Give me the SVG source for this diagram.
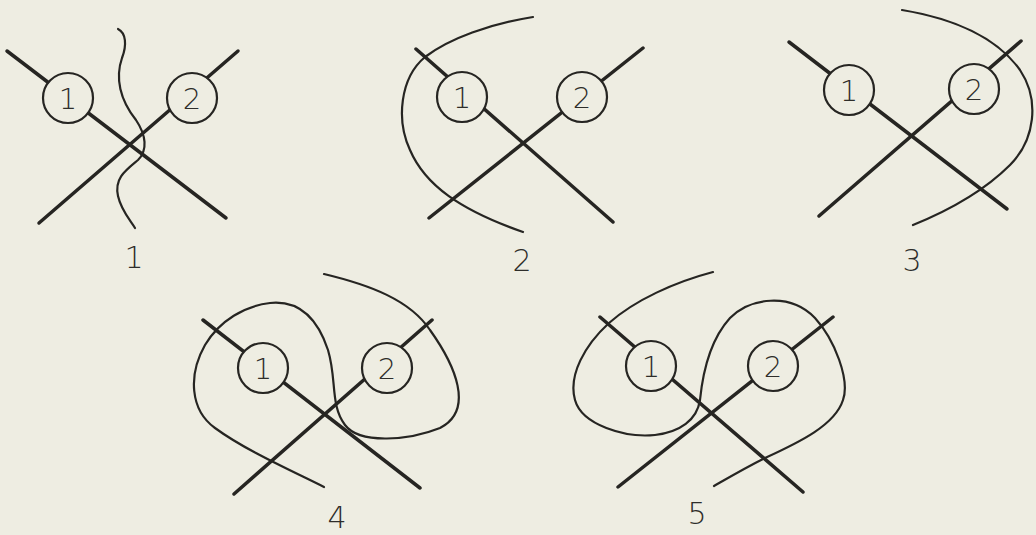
<svg xmlns="http://www.w3.org/2000/svg" width="1036" height="535" viewBox="0 0 1036 535">
<style>
.bar{stroke:#262522;stroke-width:3.5;stroke-linecap:round;fill:none}
.cv{stroke:#262522;stroke-width:2.2;stroke-linecap:round;fill:none}
.nd{fill:#EEEDE2;stroke:#262522;stroke-width:2.2}
.nt{font-family:"DejaVu Sans","Liberation Sans",Arial,sans-serif;font-weight:200;font-size:29px;fill:#2e2d2a;text-anchor:middle}
.lb{font-family:"DejaVu Sans","Liberation Sans",Arial,sans-serif;font-weight:200;font-size:30px;fill:#2e2d2a;text-anchor:middle}
</style>
<rect width="1036" height="535" fill="#EEEDE2"/>
<g id="connectors">
<g id="p1-lines">
<line class="bar" x1="7" y1="51" x2="226" y2="218"/>
<line class="bar" x1="238" y1="51" x2="39" y2="223"/>
<path class="cv" d="M118,29 C126,33 127,45 122,58 C115,78 120,100 136,120 C146,135 148,150 138,160 C126,170 114,178 118,196 C121,210 130,220 135,228"/>
</g>
<g id="p2-lines">
<line class="bar" x1="416" y1="49" x2="613" y2="222"/>
<line class="bar" x1="643" y1="48" x2="429" y2="218"/>
<path class="cv" d="M533,17 C490,24 450,38 425,57 C400,78 396,120 410,150 C425,185 460,210 523,232"/>
</g>
<g id="p3-lines">
<line class="bar" x1="789" y1="42" x2="1007" y2="209"/>
<line class="bar" x1="1021" y1="41" x2="819" y2="216"/>
<path class="cv" d="M902,10 C950,18 995,35 1020,70 C1040,100 1035,140 1010,165 C985,190 950,210 913,225"/>
</g>
<g id="p4-lines">
<line class="bar" x1="203" y1="320" x2="420" y2="488"/>
<line class="bar" x1="432" y1="320" x2="234" y2="494"/>
<path class="cv" d="M324,274 C370,285 410,300 430,330 C455,365 475,410 440,428 C410,440 360,445 345,425 C330,405 337,380 328,350 C318,320 300,300 270,303 C245,306 220,320 205,345 C188,375 190,410 215,428 C245,450 290,470 324,487"/>
</g>
<g id="p5-lines">
<line class="bar" x1="600" y1="317" x2="803" y2="492"/>
<line class="bar" x1="833" y1="317" x2="618" y2="487"/>
<path class="cv" d="M713,272 C675,282 635,300 609,323 C585,345 568,375 575,400 C582,425 625,438 655,435 C680,432 697,420 700,400 C703,370 710,340 730,318 C750,298 790,292 815,318 C835,340 850,380 843,400 C835,425 800,442 765,458 C745,468 728,478 714,486"/>
</g>
</g>
<g id="p1-n1"><circle class="nd" cx="68" cy="98" r="25"/><text class="nt" x="68" y="109">1</text></g>
<g id="p1-n2"><circle class="nd" cx="192" cy="98" r="25"/><text class="nt" x="192" y="109">2</text></g>
<g id="p2-n1"><circle class="nd" cx="462" cy="97" r="25"/><text class="nt" x="462" y="108">1</text></g>
<g id="p2-n2"><circle class="nd" cx="582" cy="97" r="25"/><text class="nt" x="582" y="108">2</text></g>
<g id="p3-n1"><circle class="nd" cx="849" cy="90" r="25"/><text class="nt" x="849" y="101">1</text></g>
<g id="p3-n2"><circle class="nd" cx="974" cy="89" r="25"/><text class="nt" x="974" y="100">2</text></g>
<g id="p4-n1"><circle class="nd" cx="263" cy="368" r="25"/><text class="nt" x="263" y="379">1</text></g>
<g id="p4-n2"><circle class="nd" cx="387" cy="368" r="25"/><text class="nt" x="387" y="379">2</text></g>
<g id="p5-n1"><circle class="nd" cx="651" cy="366" r="25"/><text class="nt" x="651" y="377">1</text></g>
<g id="p5-n2"><circle class="nd" cx="773" cy="366" r="25"/><text class="nt" x="773" y="377">2</text></g>
<text class="lb" x="134" y="268">1</text>
<text class="lb" x="522" y="271">2</text>
<text class="lb" x="912" y="271">3</text>
<text class="lb" x="337" y="528">4</text>
<text class="lb" x="697" y="524">5</text>
</svg>
